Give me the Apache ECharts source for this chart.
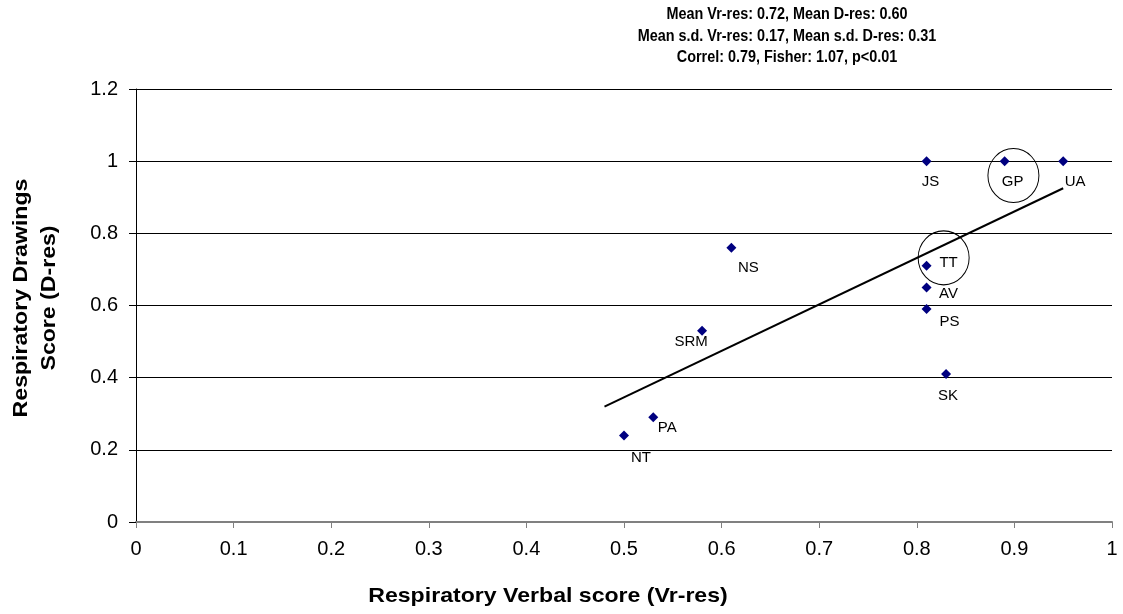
<!DOCTYPE html>
<html>
<head>
<meta charset="utf-8">
<script src="https://cdn.jsdelivr.net/npm/echarts@6/dist/echarts.min.js"></script>
<style>
  html, body { margin: 0; padding: 0; background: #fff; }
  #chart { width: 1123px; height: 614px; }
</style>
</head>
<body>
<div id="chart"></div>
<script>
// Patients: verbal score (x) vs drawings score (y)
const patients = ['JS', 'GP', 'UA', 'TT', 'AV', 'PS', 'SK', 'NS', 'SRM', 'PA', 'NT'];
const verbalScores = [0.81, 0.89, 0.95, 0.81, 0.81, 0.81, 0.83, 0.61, 0.58, 0.53, 0.50];
const drawingScores = [1.00, 1.00, 1.00, 0.71, 0.65, 0.59, 0.41, 0.76, 0.53, 0.29, 0.24];

// Linear trend line end points
const trendX = [0.48, 0.95];
const trendY = [0.32, 0.925];

// Highlighted patients (rings)
const ringX = [0.8275, 0.899];
const ringY = [0.732, 0.96];

const summaryLines = [
  'Mean Vr-res: 0.72, Mean D-res: 0.60',
  'Mean s.d. Vr-res: 0.17, Mean s.d. D-res: 0.31',
  'Correl: 0.79, Fisher: 1.07, p<0.01'
];

// Label placement relative to each marker, in pixels
const labelOffsets = {
  JS: [4, 21], GP: [8, 21], UA: [12, 21], TT: [22, -3], AV: [22, 6],
  PS: [23, 13], SK: [2, 22], NS: [17, 20], SRM: [-11, 11], PA: [14, 11], NT: [17, 22]
};

const FONT = 'Arial, "Liberation Sans", sans-serif';

const pointData = patients.map((name, i) => ({
  name: name,
  value: [verbalScores[i], drawingScores[i]],
  label: {
    show: true,
    formatter: name,
    position: 'inside',
    offset: labelOffsets[name],
    color: '#000',
    fontFamily: FONT,
    fontSize: 15
  }
}));

const chart = echarts.init(document.getElementById('chart'), null, { renderer: 'canvas' });

chart.setOption({
  animation: false,
  backgroundColor: '#fff',
  grid: { left: 136, right: 11, top: 89, bottom: 92, containLabel: false },
  xAxis: {
    type: 'value', min: 0, max: 1, interval: 0.1,
    axisLine: { show: true, lineStyle: { color: '#808080', width: 2 } },
    axisTick: { show: true, length: 6, lineStyle: { color: '#808080' } },
    axisLabel: { color: '#000', fontFamily: FONT, fontSize: 20, margin: 17 },
    splitLine: { show: false }
  },
  yAxis: {
    type: 'value', min: 0, max: 1.2, interval: 0.2,
    axisLine: { show: true, lineStyle: { color: '#000', width: 1 } },
    axisTick: { show: true, length: 7, lineStyle: { color: '#000' } },
    axisLabel: { color: '#000', fontFamily: FONT, fontSize: 20, margin: 18 },
    splitLine: { show: true, lineStyle: { color: '#000', width: 1 } }
  },
  series: [
    {
      type: 'line',
      data: trendX.map((x, i) => [x, trendY[i]]),
      showSymbol: false,
      symbol: 'none',
      lineStyle: { color: '#000', width: 2 },
      z: 3,
      silent: true
    },
    {
      type: 'scatter',
      data: ringX.map((x, i) => [x, ringY[i]]),
      symbol: 'circle',
      symbolSize: [51, 54],
      itemStyle: { color: 'rgba(0,0,0,0)', borderColor: '#000', borderWidth: 1, opacity: 1 },
      z: 4,
      silent: true
    },
    {
      type: 'scatter',
      data: pointData,
      symbol: 'diamond',
      symbolSize: 10,
      itemStyle: { color: '#000080', opacity: 1 },
      z: 5
    }
  ],
  graphic: [
    {
      type: 'text', x: 787, y: 4, scaleX: 0.9,
      style: {
        text: summaryLines.join('\n'), fill: '#000',
        font: 'bold 16px ' + FONT, align: 'center', verticalAlign: 'top', lineHeight: 21.5
      }
    },
    {
      type: 'text', x: 548, y: 596, scaleX: 1.1,
      style: {
        text: 'Respiratory Verbal score (Vr-res)', fill: '#000',
        font: 'bold 21px ' + FONT, align: 'center', verticalAlign: 'middle'
      }
    },
    {
      type: 'text', x: 35, y: 298, rotation: Math.PI / 2, scaleX: 1.1,
      style: {
        text: 'Respiratory Drawings\nScore (D-res)', fill: '#000',
        font: 'bold 21px ' + FONT, align: 'center', verticalAlign: 'middle', lineHeight: 28
      }
    }
  ]
});
</script>
</body>
</html>
